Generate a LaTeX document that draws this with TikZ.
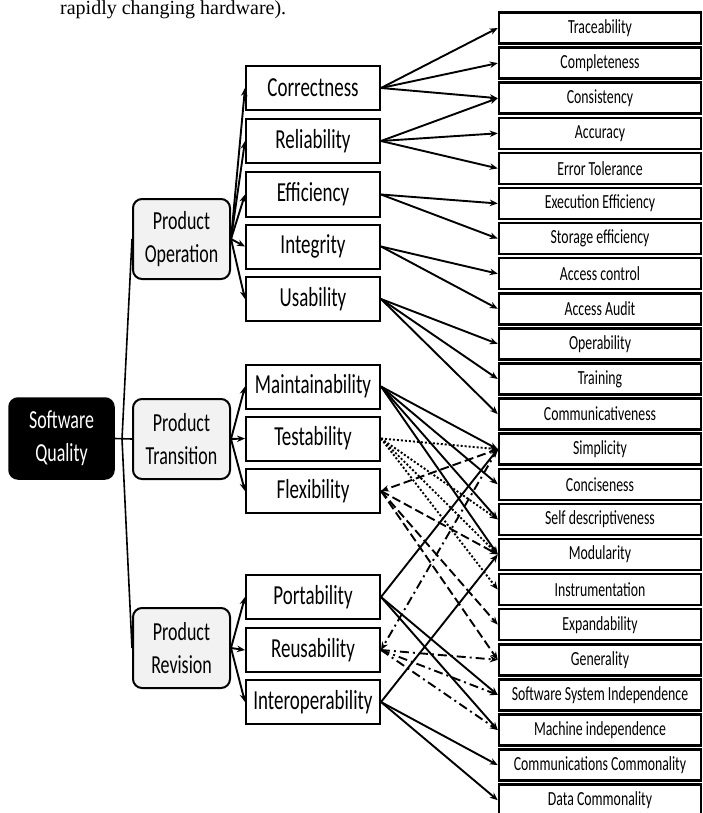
\documentclass[tikz,border=0pt]{standalone}
\usepackage{fontspec}
\setmainfont{Carlito}[FakeStretch=0.69]
\newfontfamily\bodyserif{Liberation Serif}
\usetikzlibrary{arrows.meta}
\definecolor{groupfill}{HTML}{F2F2F2}

\begin{document}
\begin{tikzpicture}[x=1pt,y=-1pt,
  every node/.style={inner sep=0pt, align=center},
  root/.style={draw=black, fill=black, text=white, rounded corners=9pt, line width=1.5pt,
    minimum width=105pt, minimum height=81pt, font=\fontsize{26}{33}\selectfont},
  group/.style={draw=black, fill=groupfill, rounded corners=9pt, line width=2pt,
    minimum width=97pt, minimum height=80pt, font=\fontsize{26}{33}\selectfont},
  factor/.style={draw=black, line width=2pt, minimum width=134pt, minimum height=44pt,
    font=\fontsize{27.5}{30}\selectfont},
  crit/.style={draw=black, line width=2.5pt, minimum width=202pt, minimum height=31pt,
    font=\fontsize{20}{22}\selectfont},
  link/.style={line width=1.9pt, -{Stealth[length=8pt,width=6.5pt]}},
  dotline/.style={link, dash pattern=on 2pt off 2pt},
  dashline/.style={link, dash pattern=on 9pt off 4pt},
  dashdotline/.style={link, dash pattern=on 9pt off 4pt on 2pt off 4pt},
  trunk/.style={line width=1.6pt}
]
\useasboundingbox (0,0) rectangle (702,813);

% running text of the page above the figure
\node[anchor=base west, font=\bodyserif\fontsize{20}{24}\selectfont] (pagetext) at (60,15)
  {rapidly changing hardware).};

% root and the three groups
\node[root]  (root)  at (61.5,438.5) {Software\\Quality};
\node[group] (oper)  at (181.5,239) {Product\\Operation};
\node[group] (trans) at (181.5,439) {Product\\Transition};
\node[group] (rev)   at (181.5,648) {Product\\Revision};

% quality factors
\node[factor] (corr)  at (313,88)    {Correctness};
\node[factor] (rel)   at (313,141)   {Reliability};
\node[factor] (eff)   at (313,194.5) {Efficiency};
\node[factor] (integ) at (313,246.5) {Integrity};
\node[factor] (usab)  at (313,299)   {Usability};
\node[factor] (maint) at (313,386.5) {Maintainability};
\node[factor] (test)  at (313,438.5) {Testability};
\node[factor] (flex)  at (313,491)   {Flexibility};
\node[factor] (port)  at (313,597)   {Portability};
\node[factor] (reuse) at (313,650)   {Reusability};
\node[factor] (inter) at (313,702)   {Interoperability};

% quality criteria
\foreach \name/\txt [count=\i from 0] in {
  trace/Traceability, compl/Completeness, cons/Consistency, accu/Accuracy,
  errt/Error Tolerance, exeff/Execution Efficiency, steff/Storage efficiency,
  acctl/Access control, acaud/Access Audit, opera/Operability, train/Training,
  commu/Communicativeness, simp/Simplicity, conc/Conciseness,
  selfd/Self descriptiveness, modu/Modularity, instr/Instrumentation,
  expa/Expandability, gene/Generality, ssi/Software System Independence,
  machi/Machine independence, comco/Communications Commonality,
  datco/Data Commonality}
  \node[crit] (\name) at (600,{28+35.1*\i}) {\txt};

% root to groups
\coordinate (fork) at (122,439);
\draw[trunk] (oper.west) -- (fork) -- (rev.west);
\draw[trunk] (root.east) -- (trans.west);

% groups to factors
\foreach \s/\t in {oper/corr, oper/rel, oper/eff, oper/integ, oper/usab,
                   trans/maint, trans/test, trans/flex,
                   rev/port, rev/reuse, rev/inter}
  \draw[link] (\s.east) -- (\t.west);

% factors to criteria, solid
\foreach \s/\t in {corr/trace, corr/compl, corr/cons,
                   rel/cons, rel/accu, rel/errt,
                   eff/exeff, eff/steff,
                   integ/acctl, integ/acaud,
                   usab/opera, usab/train, usab/commu,
                   maint/simp, maint/conc, maint/selfd, maint/modu,
                   port/simp, port/ssi, port/machi,
                   inter/modu, inter/comco, inter/datco}
  \draw[link] (\s.east) -- (\t.west);

% testability, dotted
\foreach \t in {simp, selfd, modu, instr}
  \draw[dotline] (test.east) -- (\t.west);

% flexibility, dashed
\draw[dashline] (simp.west) -- (flex.east);
\foreach \t in {modu, expa, gene}
  \draw[dashline] (flex.east) -- (\t.west);

% reusability, dash-dot
\draw[dashdotline] (simp.west) -- (reuse.east);
\foreach \t in {gene, ssi, machi}
  \draw[dashdotline] (reuse.east) -- (\t.west);
\end{tikzpicture}
\end{document}
